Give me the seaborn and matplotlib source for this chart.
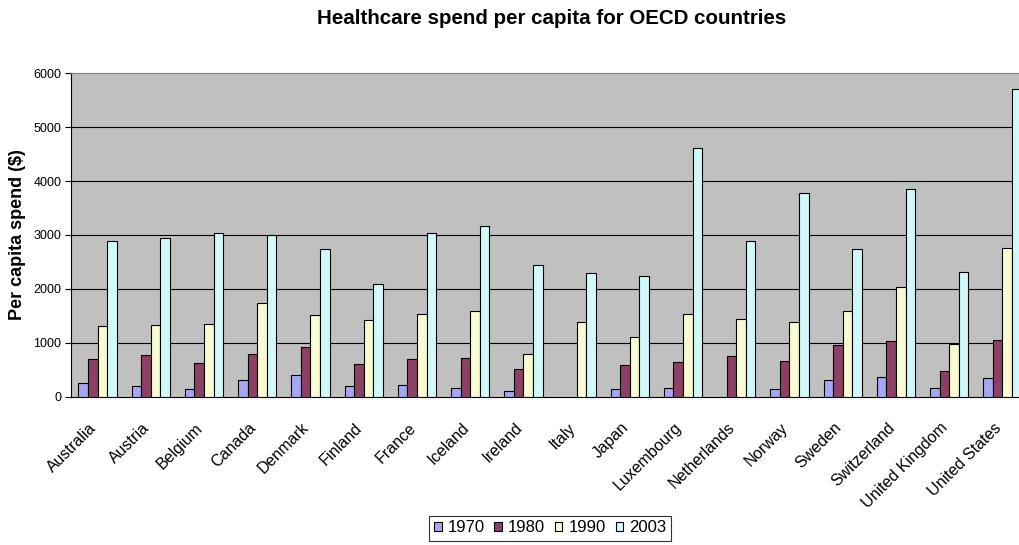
import matplotlib
matplotlib.use("Agg")
import matplotlib.pyplot as plt
import matplotlib.transforms as mtransforms
import seaborn as sns
import pandas as pd
import numpy as np

countries = ["Australia", "Austria", "Belgium", "Canada", "Denmark", "Finland",
             "France", "Iceland", "Ireland", "Italy", "Japan", "Luxembourg",
             "Netherlands", "Norway", "Sweden", "Switzerland", "United Kingdom",
             "United States"]
years = ["1970", "1980", "1990", "2003"]
spend_1970 = [255, 192, 143, 310, 390, 192, 205, 161, 105, np.nan, 136, 161,
              np.nan, 143, 304, 353, 155, 347]
spend_1980 = [688, 769, 626, 787, 918, 595, 688, 707, 515, np.nan, 583, 639,
              756, 657, 949, 1029, 477, 1054]
spend_1990 = [1302, 1320, 1339, 1736, 1513, 1420, 1525, 1593, 787, 1383, 1110, 1525,
              1432, 1383, 1593, 2027, 980, 2753]
spend_2003 = [2883, 2951, 3044, 3007, 2740, 2095, 3038, 3156, 2449, 2300, 2232, 4612,
              2895, 3770, 2740, 3856, 2319, 5704]
colors = ["#9999FF", "#993366", "#FFFFCC", "#CCFFFF"]

rows = []
for yr, vals in zip(years, [spend_1970, spend_1980, spend_1990, spend_2003]):
    for c, v in zip(countries, vals):
        rows.append({"Country": c, "Year": yr, "Spend": v})
df = pd.DataFrame(rows)

sns.set_style("white")
plt.rcParams["font.family"] = ["Liberation Sans", "DejaVu Sans"]
plt.rcParams["text.color"] = "black"
plt.rcParams["axes.labelcolor"] = "black"
plt.rcParams["xtick.color"] = "black"
plt.rcParams["ytick.color"] = "black"

fig = plt.figure(figsize=(10.2, 5.45), dpi=100)
ax = fig.add_axes([71 / 1020, (545 - 396.5) / 545, 958 / 1020, (396.5 - 73.3) / 545])
ax.set_facecolor("#C0C0C0")

sns.barplot(data=df, x="Country", y="Spend", hue="Year", order=countries,
            hue_order=years, palette=colors, width=0.72, gap=0,
            edgecolor="black", linewidth=0.8, errorbar=None, ax=ax, zorder=3,
            legend=True)

ax.set_ylim(0, 6000)
ax.set_xlim(-0.5, len(countries) - 0.5)
ax.set_yticks(range(0, 6001, 1000))
ax.set_yticklabels([str(v) for v in range(0, 6001, 1000)], fontsize=9)
for y in range(1000, 6000, 1000):
    ax.axhline(y, color="black", linewidth=0.8, zorder=1)

ax.set_xticks(range(len(countries)))
ax.set_xticklabels(countries, rotation=45, ha="right", va="top",
                   rotation_mode="anchor", fontsize=11.5)
ax.tick_params(axis="x", length=0, pad=17)
offset = mtransforms.ScaledTranslation(-9 / 100, 0, fig.dpi_scale_trans)
for lab in ax.get_xticklabels():
    lab.set_transform(lab.get_transform() + offset)
ax.set_xticks(np.arange(-0.5, len(countries), 1), minor=True)
ax.tick_params(axis="x", which="minor", length=4, width=0.8, color="black", direction="out")
ax.tick_params(axis="y", length=4, width=0.8, color="black", direction="out", pad=3, left=True)

for side in ["left", "bottom"]:
    ax.spines[side].set_color("black")
    ax.spines[side].set_linewidth(0.8)
ax.spines["top"].set_color("#808080")
ax.spines["right"].set_color("#808080")

ax.set_xlabel("")
ax.set_ylabel("Per capita spend ($)", fontsize=13, fontweight="bold", labelpad=5)

fig.text(552 / 1020, 1 - 18 / 545, "Healthcare spend per capita for OECD countries",
         ha="center", va="center", fontsize=14.8, fontweight="bold")

handles, labels = ax.get_legend_handles_labels()
ax.get_legend().remove()
leg = fig.legend(handles, labels, loc="center", bbox_to_anchor=(550 / 1020, 1 - 528 / 545),
                 ncol=4, frameon=True, fancybox=False, edgecolor="black", fontsize=12,
                 handlelength=0.45, handleheight=0.5, handletextpad=0.35, columnspacing=0.6,
                 borderpad=0.3, borderaxespad=0)
leg.get_frame().set_linewidth(0.8)

fig.savefig("out.png", dpi=100)
